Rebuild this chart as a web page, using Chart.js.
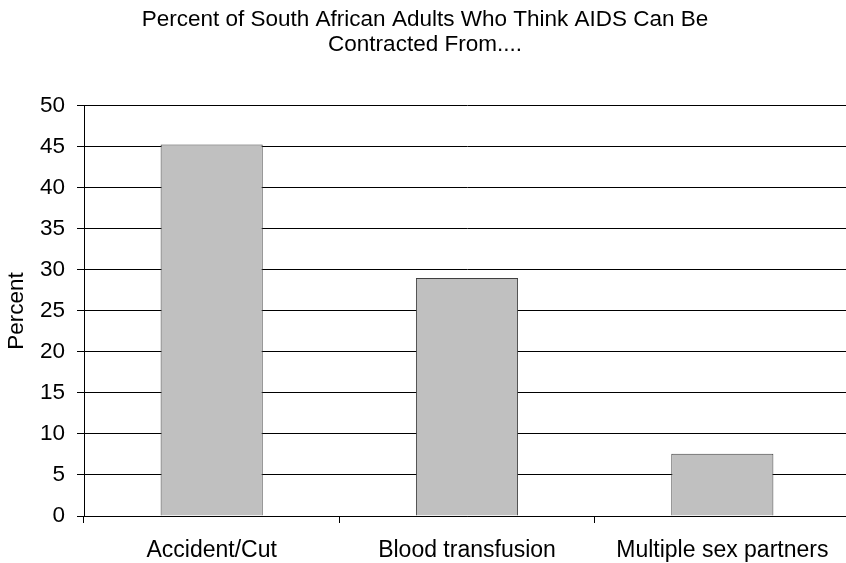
<!DOCTYPE html>
<html>
<head>
<meta charset="utf-8">
<script src="https://cdn.jsdelivr.net/npm/chart.js@4/dist/chart.umd.min.js"></script>
<style>
  html, body { margin: 0; padding: 0; background: #fff; overflow: hidden; }
  #wrap { width: 850px; height: 563px; }
</style>
</head>
<body>
<div id="wrap"><canvas id="c" width="850" height="563"></canvas></div>
<script>
const categories = ['Accident/Cut', 'Blood transfusion', 'Multiple sex partners'];
const percentValues = [45.3, 29.0, 7.6];
const yTicks = [0, 5, 10, 15, 20, 25, 30, 35, 40, 45, 50];
const titleLines = ['Percent of South African Adults Who Think AIDS Can Be', 'Contracted From....'];
const yAxisTitle = 'Percent';

const FONT = 'Arial, "Liberation Sans", sans-serif';

new Chart(document.getElementById('c'), {
  type: 'bar',
  data: {
    labels: categories,
    datasets: [{
      data: percentValues,
      backgroundColor: '#c0c0c0',
      borderColor: '#404040',
      borderWidth: 1,
      barPercentage: 0.4,
      categoryPercentage: 1.0
    }]
  },
  options: {
    responsive: false,
    animation: false,
    devicePixelRatio: 1,
    layout: { padding: { left: 0, right: 0, top: 0, bottom: 0 } },
    plugins: {
      legend: { display: false },
      tooltip: { enabled: false },
      title: {
        display: true,
        text: titleLines,
        color: '#000',
        font: { family: FONT, size: 22.5, weight: 'normal', lineHeight: 1.13 },
        padding: { top: 7, bottom: 48 }
      }
    },
    scales: {
      x: {
        offset: true,
        grid: {
          offset: true,
          drawOnChartArea: false,
          drawTicks: true,
          tickLength: 7,
          color: '#000'
        },
        border: { color: '#000', width: 1 },
        ticks: {
          color: '#000',
          font: { family: FONT, size: 23 },
          padding: 14,
          maxRotation: 0
        },
        afterFit(scale) { scale.height = 47; }
      },
      y: {
        min: 0,
        max: 50,
        afterBuildTicks(scale) { scale.ticks = yTicks.map(v => ({ value: v })); },
        grid: {
          color: '#000',
          lineWidth: 1,
          tickLength: 7
        },
        border: { color: '#000', width: 1 },
        ticks: {
          color: '#000',
          font: { family: FONT, size: 22.5 },
          padding: 12
        },
        title: {
          display: true,
          text: yAxisTitle,
          color: '#000',
          font: { family: FONT, size: 22.5 },
          padding: { top: 3, bottom: 0 }
        },
        afterFit(scale) { scale.width = 84; }
      }
    }
  }
});
</script>
</body>
</html>
